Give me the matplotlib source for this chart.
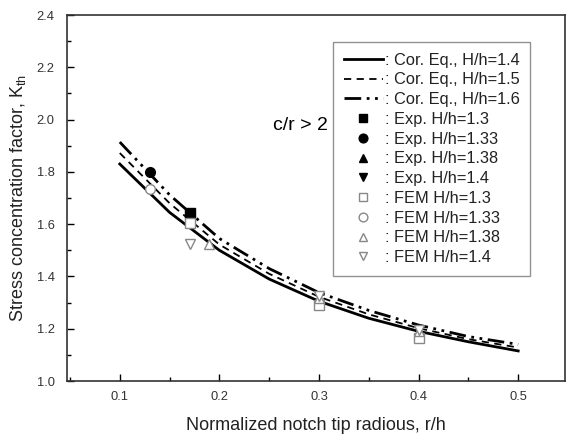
import matplotlib
matplotlib.use("Agg")
import matplotlib.pyplot as plt
from matplotlib.ticker import MultipleLocator

plt.rcParams['font.family'] = ['Liberation Sans', 'DejaVu Sans']
plt.rcParams['mathtext.fontset'] = 'custom'
plt.rcParams['mathtext.rm'] = 'Liberation Sans'

# Correlation equation curves
r_h = [0.10, 0.15, 0.20, 0.25, 0.30, 0.35, 0.40, 0.45, 0.50]
k_14 = [1.830, 1.645, 1.500, 1.390, 1.305, 1.240, 1.190, 1.150, 1.115]
k_15 = [1.872, 1.680, 1.522, 1.410, 1.322, 1.255, 1.202, 1.160, 1.128]
k_16 = [1.914, 1.712, 1.545, 1.430, 1.338, 1.270, 1.214, 1.170, 1.140]

# Experimental points
exp_13_x, exp_13_y = [0.17], [1.644]
exp_133_x, exp_133_y = [0.13], [1.800]
exp_138_x, exp_138_y = [0.17], [1.634]
exp_14_x, exp_14_y = [0.17], [1.624]

# FEM points
fem_13_x, fem_13_y = [0.17, 0.30, 0.40], [1.603, 1.291, 1.163]
fem_133_x, fem_133_y = [0.13], [1.733]
fem_138_x, fem_138_y = [0.19, 0.30, 0.40], [1.524, 1.318, 1.190]
fem_14_x, fem_14_y = [0.17, 0.30, 0.40], [1.524, 1.326, 1.195]

fig = plt.figure(figsize=(5.68, 4.37), dpi=100)
ax = fig.add_axes([67/568, (437-381)/437, 498/568, 366/437])

ax.plot(r_h, k_14, color='black', lw=2.0, ls='-', label=': Cor. Eq., H/h=1.4')
ax.plot(r_h, k_15, color='black', lw=1.3, ls=(0, (4, 3)), label=': Cor. Eq., H/h=1.5')
ax.plot(r_h, k_16, color='black', lw=2.0, ls=(0, (6, 2, 1, 2, 1, 2)), label=': Cor. Eq., H/h=1.6')

ax.plot(exp_13_x, exp_13_y, ls='none', marker='s', ms=7, color='black', label=': Exp. H/h=1.3')
ax.plot(exp_133_x, exp_133_y, ls='none', marker='o', ms=7, color='black', label=': Exp. H/h=1.33')
ax.plot(exp_138_x, exp_138_y, ls='none', marker='^', ms=7, color='black', label=': Exp. H/h=1.38')
ax.plot(exp_14_x, exp_14_y, ls='none', marker='v', ms=7, color='black', label=': Exp. H/h=1.4')

fem_kw = dict(ls='none', ms=7, mfc='white', mec='#888888', mew=1.0)
ax.plot(fem_13_x, fem_13_y, marker='s', label=': FEM H/h=1.3', **fem_kw)
ax.plot(fem_133_x, fem_133_y, marker='o', label=': FEM H/h=1.33', **fem_kw)
ax.plot(fem_138_x, fem_138_y, marker='^', label=': FEM H/h=1.38', **fem_kw)
ax.plot(fem_14_x, fem_14_y, marker='v', label=': FEM H/h=1.4', **fem_kw)

ax.set_xlim(0.047, 0.547)
ax.set_ylim(1.0, 2.4)
ax.xaxis.set_minor_locator(MultipleLocator(0.05))
ax.yaxis.set_minor_locator(MultipleLocator(0.1))
ax.set_xticks([0.1, 0.2, 0.3, 0.4, 0.5])
ax.set_xticklabels(['0.1', '0.2', '0.3', '0.4', '0.5'])
ax.set_yticks([1.0, 1.2, 1.4, 1.6, 1.8, 2.0, 2.2, 2.4])
ax.set_yticklabels(['1.0', '1.2', '1.4', '1.6', '1.8', '2.0', '2.2', '2.4'])
ax.tick_params(which='both', direction='in', top=False, right=False, labelsize=9.3,
               colors='black', labelcolor='#333333')
ax.tick_params(which='major', length=5, width=1)
ax.tick_params(which='minor', length=3, width=1)
ax.tick_params(axis='x', which='major', pad=7)
ax.tick_params(axis='y', which='major', pad=9)
for s in ax.spines.values():
    s.set_linewidth(1.2)
    s.set_color('#333333')

ax.set_xlabel('Normalized notch tip radious, r/h', fontsize=13, labelpad=10, color='#222222')
ax.set_ylabel(r'Stress concentration factor, K$_{\rm th}$', fontsize=13, labelpad=6, color='#222222')

ax.text(0.281, 1.96, 'c/r > 2', fontsize=14, ha='center', va='baseline')

leg = ax.legend(loc='upper left', bbox_to_anchor=((333-67)/498, (381-42)/366),
                fontsize=11.8, frameon=True, fancybox=False, edgecolor='#777777',
                handlelength=2.4, handletextpad=0.1, labelspacing=0.29,
                borderpad=0.65, borderaxespad=0, markerscale=0.9)
leg.get_frame().set_linewidth(1.0)
for t in leg.get_texts():
    t.set_color('#222222')

fig.savefig('out.png', dpi=100)
